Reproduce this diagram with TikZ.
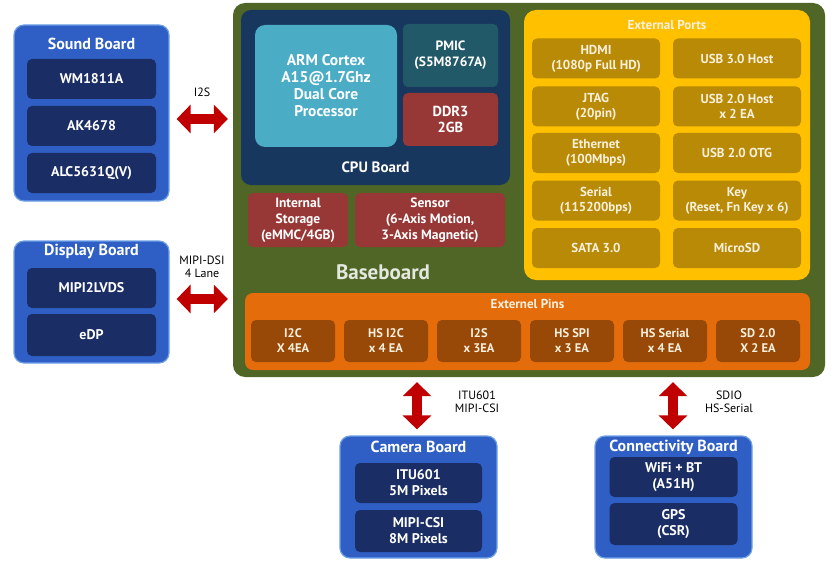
\documentclass[tikz,border=0pt]{standalone}
\usepackage{fontspec}
\setmainfont{PT Sans}
\usepackage{tikz}
\usetikzlibrary{positioning,arrows.meta}
\definecolor{basegreen}{RGB}{79,102,38}
\definecolor{cpunavy}{RGB}{24,55,94}
\definecolor{armblue}{RGB}{75,172,198}
\definecolor{pmicteal}{RGB}{34,89,104}
\definecolor{ddrred}{RGB}{152,56,54}
\definecolor{portyellow}{RGB}{255,192,0}
\definecolor{portgold}{RGB}{184,138,6}
\definecolor{pinorange}{RGB}{228,108,10}
\definecolor{pinbrown}{RGB}{152,72,7}
\definecolor{boardblue}{RGB}{47,95,196}
\definecolor{boardedge}{RGB}{110,160,230}
\definecolor{chipnavy}{RGB}{26,45,100}
\definecolor{fatred}{RGB}{192,0,0}
\definecolor{cream}{RGB}{248,240,220}

\begin{document}
\begin{tikzpicture}[x=1pt,y=-1pt,
		box/.style={rounded corners=5pt,align=center,inner sep=0pt,text=white,font=\bfseries\fontsize{13.5}{16}\selectfont},
		board/.style={rounded corners=10pt,fill=boardblue,draw=boardedge,line width=1.2pt,minimum width=155pt},
		chip/.style={box,fill=chipnavy,minimum width=129pt,font=\bfseries\fontsize{14}{16}\selectfont},
		title/.style={text=white,font=\bfseries\fontsize{16}{18}\selectfont},
		portbox/.style={box,fill=portgold,text=cream,minimum width=128pt,minimum height=40pt,font=\bfseries\fontsize{13}{15}\selectfont},
		pinbox/.style={box,fill=pinbrown,text=cream,minimum width=84pt,minimum height=42pt,font=\bfseries\fontsize{12.5}{15}\selectfont},
		link/.style={align=center,font=\fontsize{12}{13}\selectfont},
		fat/.style={draw=fatred,line width=10pt,{Triangle[length=14pt,width=28pt]}-{Triangle[length=14pt,width=28pt]}}
	]
	\useasboundingbox (0,0) rectangle (838,567);
	% baseboard
	\node [fill=basegreen,rounded corners=12pt,minimum width=592pt,minimum height=374pt] (base) at (529,190) {};
	\node [fill=cpunavy,rounded corners=10pt,minimum width=269pt,minimum height=175pt] (cpu) at (375.5,97.5) {};
	\node [box,fill=armblue,rounded corners=10pt,minimum width=142pt,minimum height=122pt,font=\bfseries\fontsize{15.5}{17}\selectfont] (arm) at (326,86) {ARM Cortex\\A15@1.7Ghz\\Dual Core\\Processor};
	\node [box,fill=pmicteal,minimum width=95pt,minimum height=63pt] (pmic) at (450.5,55.5) {PMIC\\(S5M8767A)};
	\node [box,fill=ddrred,minimum width=95pt,minimum height=53pt,font=\bfseries\fontsize{14.5}{16}\selectfont] (ddr) at (450.5,119.5) {DDR3\\2GB};
	\node [title,font=\bfseries\fontsize{15}{17}\selectfont] (cpulbl) at (375.5,167) {CPU Board};
	\node [box,fill=ddrred,minimum width=100pt,minimum height=54pt] (emmc) at (298,220) {Internal\\Storage\\(eMMC/4GB)};
	\node [box,fill=ddrred,minimum width=150pt,minimum height=54pt] (sens) at (430,220) {Sensor\\(6-Axis Motion,\\3-Axis Magnetic)};
	\node [text=white!85!basegreen,font=\bfseries\fontsize{21}{24}\selectfont] (baselbl) at (383,272) {Baseboard};
	% external ports
	\node [fill=portyellow,rounded corners=12pt,minimum width=286pt,minimum height=270pt] (ports) at (667,145) {};
	\node [text=cream,font=\bfseries\fontsize{13}{15}\selectfont] (portlbl) at (667,25) {External Ports};
	\node [portbox] (p11) at (596,58.5) {HDMI\\(1080p Full HD)};
	\node [portbox] (p12) at (737,58.5) {USB 3.0 Host};
	\node [portbox] (p21) at (596,106.5) {JTAG\\(20pin)};
	\node [portbox] (p22) at (737,106.5) {USB 2.0 Host\\x 2 EA};
	\node [portbox] (p31) at (596,153) {Ethernet\\(100Mbps)};
	\node [portbox] (p32) at (737,153) {USB 2.0 OTG};
	\node [portbox] (p41) at (596,200.5) {Serial\\(115200bps)};
	\node [portbox] (p42) at (737,200.5) {Key\\(Reset, Fn Key x 6)};
	\node [portbox] (p51) at (596,248) {SATA 3.0};
	\node [portbox] (p52) at (737,248) {MicroSD};
	% external pins
	\node [fill=pinorange,rounded corners=8pt,minimum width=565pt,minimum height=77pt] (pins) at (527.5,331.5) {};
	\node [text=cream,font=\bfseries\fontsize{13}{15}\selectfont] (pinlbl) at (527.5,304) {Externel Pins};
	\node [pinbox] (pin1) at (293,341) {I2C\\X 4EA};
	\node [pinbox] (pin2) at (386,341) {HS I2C\\x 4 EA};
	\node [pinbox] (pin3) at (479,341) {I2S\\x 3EA};
	\node [pinbox] (pin4) at (572,341) {HS SPI\\x 3 EA};
	\node [pinbox] (pin5) at (665,341) {HS Serial\\x 4 EA};
	\node [pinbox] (pin6) at (758,341) {SD 2.0\\X 2 EA};
	% sound board
	\node [board,minimum height=176pt] (snd) at (91.5,113) {};
	\node [title] (sndlbl) at (91.5,44) {Sound Board};
	\node [chip,minimum height=40pt] (snd1) at (91.5,79) {WM1811A};
	\node [chip,minimum height=40pt] (snd2) at (91.5,126) {AK4678};
	\node [chip,minimum height=40pt] (snd3) at (91.5,173) {ALC5631Q(V)};
	% display board
	\node [board,minimum height=122pt] (disp) at (91.5,302) {};
	\node [title] (displbl) at (91.5,251) {Display Board};
	\node [chip,minimum height=40pt] (disp1) at (91.5,288) {MIPI2LVDS};
	\node [chip,minimum height=42pt] (disp2) at (91.5,335) {eDP};
	% camera board
	\node [board,minimum width=157pt,minimum height=122pt] (cam) at (418.5,497) {};
	\node [title] (camlbl) at (418.5,447) {Camera Board};
	\node [chip,minimum width=127pt,minimum height=40pt] (cam1) at (418.5,483) {ITU601\\5M Pixels};
	\node [chip,minimum width=127pt,minimum height=42pt] (cam2) at (418.5,531) {MIPI-CSI\\8M Pixels};
	% connectivity board
	\node [board,minimum width=157pt,minimum height=122pt] (conn) at (673.5,497) {};
	\node [title] (connlbl) at (673.5,447) {Connectivity Board};
	\node [chip,minimum width=128pt,minimum height=40pt] (conn1) at (673.5,477) {WiFi + BT\\(A51H)};
	\node [chip,minimum width=128pt,minimum height=42pt] (conn2) at (673.5,524) {GPS\\(CSR)};
	% links
	\draw [fat,shorten <=7pt,shorten >=5pt] (snd.east |- 0,119) -- (base.west |- 0,119);
	\node [link] (i2s) at (202,92) {I2S};
	\draw [fat,shorten <=7pt,shorten >=5pt] (disp.east |- 0,299) -- (base.west |- 0,299);
	\node [link] (dsi) at (202,267) {MIPI-DSI\\4 Lane};
	\draw [fat,shorten <=5pt,shorten >=6pt] (base.south -| 417,0) -- (cam.north -| 417,0);
	\node [link] (csi) at (477,402) {ITU601\\MIPI-CSI};
	\draw [fat,shorten <=5pt,shorten >=6pt] (base.south -| 673,0) -- (conn.north -| 673,0);
	\node [link] (sdio) at (729,402) {SDIO\\HS-Serial};
\end{tikzpicture}
\end{document}
